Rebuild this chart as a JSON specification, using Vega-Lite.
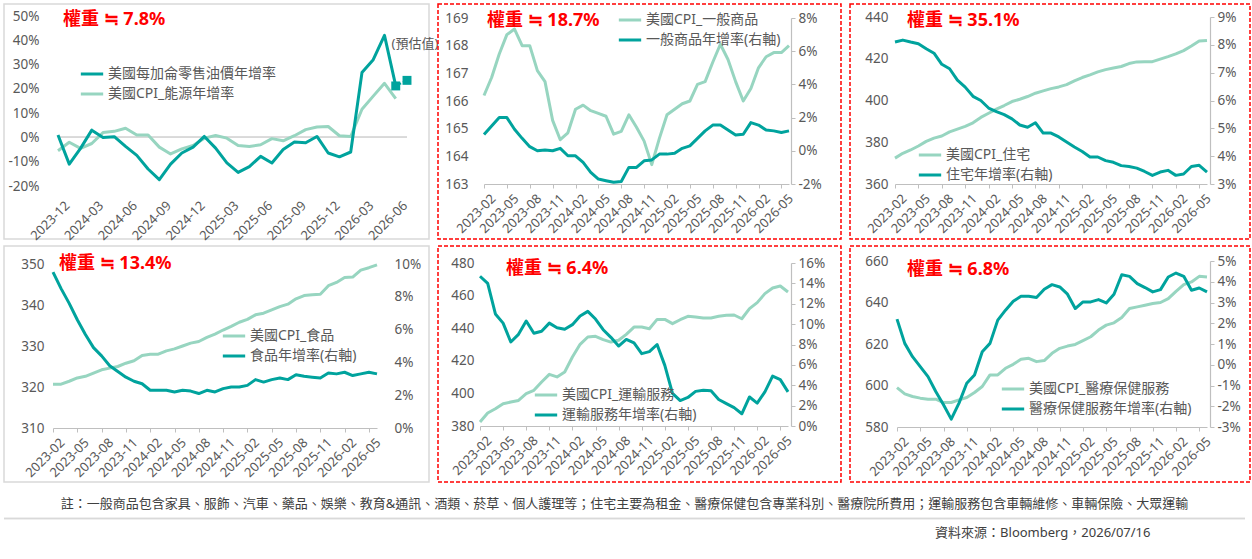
{
  "$schema": "https://vega.github.io/schema/vega-lite/v6.json",
  "background": "white",
  "padding": {"left": 3, "top": 3, "right": 0, "bottom": 0},
  "datasets": {
    "p1": [
      {"m": "2023-12", "oil": 1.0, "energy": -5.5},
      {"m": "2024-01", "oil": -11.0, "energy": -2.0},
      {"m": "2024-02", "oil": -4.5, "energy": -4.5},
      {"m": "2024-03", "oil": 3.0, "energy": -2.5},
      {"m": "2024-04", "oil": 0.0, "energy": 2.0},
      {"m": "2024-05", "oil": 0.3, "energy": 2.5},
      {"m": "2024-06", "oil": -3.7, "energy": 3.8},
      {"m": "2024-07", "oil": -7.4, "energy": 1.0},
      {"m": "2024-08", "oil": -13.0, "energy": 1.0},
      {"m": "2024-09", "oil": -17.4, "energy": -4.0},
      {"m": "2024-10", "oil": -11.0, "energy": -6.8},
      {"m": "2024-11", "oil": -6.4, "energy": -4.7},
      {"m": "2024-12", "oil": -4.0, "energy": -3.3},
      {"m": "2025-01", "oil": 0.4, "energy": -0.3},
      {"m": "2025-02", "oil": -4.4, "energy": 0.8},
      {"m": "2025-03", "oil": -10.5, "energy": -0.3},
      {"m": "2025-04", "oil": -14.4, "energy": -3.3},
      {"m": "2025-05", "oil": -12.0, "energy": -3.7},
      {"m": "2025-06", "oil": -7.8, "energy": -3.0},
      {"m": "2025-07", "oil": -10.5, "energy": -0.5},
      {"m": "2025-08", "oil": -5.0, "energy": -1.4},
      {"m": "2025-09", "oil": -1.9, "energy": 0.7},
      {"m": "2025-10", "oil": -2.2, "energy": 3.2},
      {"m": "2025-11", "oil": 0.4, "energy": 4.3},
      {"m": "2025-12", "oil": -6.4, "energy": 4.5},
      {"m": "2026-01", "oil": -8.0, "energy": 0.7},
      {"m": "2026-02", "oil": -6.0, "energy": 0.4},
      {"m": "2026-03", "oil": 26.7, "energy": 11.6},
      {"m": "2026-04", "oil": 32.0, "energy": 17.0},
      {"m": "2026-05", "oil": 42.0, "energy": 22.3},
      {"m": "2026-06", "oil": 21.2, "energy": 16.0}
    ],
    "p1est": [
      {"m": "2026-06", "est": 21.2},
      {"m": "2026-07", "est": 23.5, "lab": "(預估值)"}
    ],
    "cpi": [
      {"m": "2023-02", "g": 166.2, "gy": 0.98, "s": 372.4, "sy": 8.1, "f": 320.7, "fy": 9.5, "t": 382.5, "ty": 14.7, "h": 599.0, "hy": 2.2},
      {"m": "2023-03", "g": 166.85, "gy": 1.5, "s": 374.7, "sy": 8.17, "f": 320.7, "fy": 8.5, "t": 388.0, "ty": 14.0, "h": 596.0, "hy": 1.03},
      {"m": "2023-04", "g": 167.7, "gy": 2.0, "s": 376.3, "sy": 8.1, "f": 321.4, "fy": 7.6, "t": 390.6, "ty": 11.0, "h": 594.7, "hy": 0.39},
      {"m": "2023-05", "g": 168.4, "gy": 2.0, "s": 378.2, "sy": 8.04, "f": 322.2, "fy": 6.6, "t": 393.7, "ty": 10.1, "h": 593.9, "hy": -0.09},
      {"m": "2023-06", "g": 168.6, "gy": 1.3, "s": 380.4, "sy": 7.86, "f": 322.6, "fy": 5.7, "t": 394.7, "ty": 8.25, "h": 593.4, "hy": -0.57},
      {"m": "2023-07", "g": 168.0, "gy": 0.75, "s": 382.0, "sy": 7.7, "f": 323.4, "fy": 4.9, "t": 395.7, "ty": 9.0, "h": 593.4, "hy": -1.29},
      {"m": "2023-08", "g": 168.0, "gy": 0.25, "s": 383.0, "sy": 7.3, "f": 324.2, "fy": 4.4, "t": 399.8, "ty": 10.3, "h": 591.8, "hy": -1.93},
      {"m": "2023-09", "g": 167.1, "gy": 0.0, "s": 385.0, "sy": 7.14, "f": 324.6, "fy": 3.8, "t": 401.9, "ty": 9.1, "h": 591.8, "hy": -2.62},
      {"m": "2023-10", "g": 166.7, "gy": 0.05, "s": 386.3, "sy": 6.73, "f": 325.0, "fy": 3.45, "t": 407.0, "ty": 9.3, "h": 593.1, "hy": -1.85},
      {"m": "2023-11", "g": 165.3, "gy": 0.0, "s": 387.6, "sy": 6.48, "f": 325.8, "fy": 3.1, "t": 411.7, "ty": 10.1, "h": 594.2, "hy": -0.89},
      {"m": "2023-12", "g": 164.6, "gy": 0.15, "s": 389.3, "sy": 6.15, "f": 326.4, "fy": 2.85, "t": 410.1, "ty": 9.65, "h": 596.6, "hy": -0.49},
      {"m": "2024-01", "g": 164.85, "gy": -0.3, "s": 391.9, "sy": 6.0, "f": 327.7, "fy": 2.7, "t": 413.1, "ty": 9.5, "h": 599.5, "hy": 0.63},
      {"m": "2024-02", "g": 165.7, "gy": -0.3, "s": 393.9, "sy": 5.73, "f": 328.0, "fy": 2.3, "t": 422.3, "ty": 9.95, "h": 605.1, "hy": 1.03},
      {"m": "2024-03", "g": 165.85, "gy": -0.7, "s": 395.9, "sy": 5.6, "f": 328.0, "fy": 2.3, "t": 430.1, "ty": 10.8, "h": 605.1, "hy": 2.15},
      {"m": "2024-04", "g": 165.65, "gy": -1.3, "s": 397.6, "sy": 5.49, "f": 328.8, "fy": 2.3, "t": 434.6, "ty": 11.25, "h": 608.3, "hy": 2.63},
      {"m": "2024-05", "g": 165.55, "gy": -1.7, "s": 399.5, "sy": 5.34, "f": 329.3, "fy": 2.2, "t": 435.0, "ty": 10.5, "h": 610.2, "hy": 3.06},
      {"m": "2024-06", "g": 165.45, "gy": -1.8, "s": 400.6, "sy": 5.12, "f": 330.0, "fy": 2.3, "t": 433.0, "ty": 9.45, "h": 612.6, "hy": 3.3},
      {"m": "2024-07", "g": 164.8, "gy": -1.9, "s": 401.9, "sy": 5.04, "f": 330.7, "fy": 2.25, "t": 431.5, "ty": 8.7, "h": 613.1, "hy": 3.3},
      {"m": "2024-08", "g": 164.9, "gy": -1.85, "s": 403.5, "sy": 5.2, "f": 331.1, "fy": 2.1, "t": 432.6, "ty": 7.85, "h": 611.5, "hy": 3.24},
      {"m": "2024-09", "g": 165.5, "gy": -1.0, "s": 404.6, "sy": 4.83, "f": 332.1, "fy": 2.3, "t": 436.2, "ty": 8.5, "h": 612.0, "hy": 3.64},
      {"m": "2024-10", "g": 165.05, "gy": -1.0, "s": 405.7, "sy": 4.83, "f": 332.9, "fy": 2.2, "t": 440.7, "ty": 8.15, "h": 615.5, "hy": 3.86},
      {"m": "2024-11", "g": 164.55, "gy": -0.6, "s": 406.5, "sy": 4.69, "f": 333.9, "fy": 2.4, "t": 440.7, "ty": 7.1, "h": 617.9, "hy": 3.75},
      {"m": "2024-12", "g": 163.7, "gy": -0.55, "s": 407.6, "sy": 4.51, "f": 334.8, "fy": 2.5, "t": 439.7, "ty": 7.3, "h": 619.0, "hy": 3.4},
      {"m": "2025-01", "g": 164.65, "gy": -0.2, "s": 409.4, "sy": 4.33, "f": 335.8, "fy": 2.5, "t": 445.4, "ty": 8.0, "h": 619.8, "hy": 2.71},
      {"m": "2025-02", "g": 165.5, "gy": -0.2, "s": 411.0, "sy": 4.17, "f": 336.5, "fy": 2.6, "t": 445.4, "ty": 5.95, "h": 621.6, "hy": 3.03},
      {"m": "2025-03", "g": 165.7, "gy": -0.15, "s": 412.3, "sy": 3.97, "f": 337.6, "fy": 2.95, "t": 442.8, "ty": 3.2, "h": 623.5, "hy": 3.03},
      {"m": "2025-04", "g": 165.9, "gy": 0.15, "s": 413.7, "sy": 3.97, "f": 338.0, "fy": 2.8, "t": 445.2, "ty": 2.5, "h": 626.7, "hy": 3.14},
      {"m": "2025-05", "g": 166.0, "gy": 0.3, "s": 414.8, "sy": 3.84, "f": 338.8, "fy": 2.95, "t": 447.3, "ty": 2.8, "h": 629.1, "hy": 2.98},
      {"m": "2025-06", "g": 166.6, "gy": 0.75, "s": 415.6, "sy": 3.78, "f": 339.6, "fy": 3.05, "t": 446.9, "ty": 3.4, "h": 630.2, "hy": 3.4},
      {"m": "2025-07", "g": 166.7, "gy": 1.2, "s": 416.3, "sy": 3.66, "f": 340.2, "fy": 2.95, "t": 446.3, "ty": 3.5, "h": 632.8, "hy": 4.34},
      {"m": "2025-08", "g": 167.4, "gy": 1.55, "s": 417.7, "sy": 3.63, "f": 341.5, "fy": 3.25, "t": 446.3, "ty": 3.45, "h": 637.1, "hy": 4.26},
      {"m": "2025-09", "g": 168.05, "gy": 1.55, "s": 418.5, "sy": 3.57, "f": 342.3, "fy": 3.15, "t": 447.3, "ty": 2.6, "h": 637.9, "hy": 3.91},
      {"m": "2025-10", "g": 167.5, "gy": 1.25, "s": 418.6, "sy": 3.45, "f": 342.5, "fy": 3.1, "t": 447.9, "ty": 2.2, "h": 638.7, "hy": 3.72},
      {"m": "2025-11", "g": 166.7, "gy": 0.95, "s": 418.6, "sy": 3.31, "f": 342.6, "fy": 3.05, "t": 448.1, "ty": 1.8, "h": 639.5, "hy": 3.51},
      {"m": "2025-12", "g": 166.0, "gy": 1.0, "s": 419.8, "sy": 3.43, "f": 344.7, "fy": 3.35, "t": 445.8, "ty": 1.2, "h": 640.0, "hy": 3.62},
      {"m": "2026-01", "g": 166.45, "gy": 1.7, "s": 421.0, "sy": 3.49, "f": 345.5, "fy": 3.3, "t": 452.0, "ty": 2.85, "h": 641.9, "hy": 4.23},
      {"m": "2026-02", "g": 167.2, "gy": 1.55, "s": 422.3, "sy": 3.31, "f": 346.7, "fy": 3.4, "t": 455.7, "ty": 2.25, "h": 645.4, "hy": 4.42},
      {"m": "2026-03", "g": 167.6, "gy": 1.25, "s": 423.9, "sy": 3.36, "f": 346.8, "fy": 3.2, "t": 461.2, "ty": 3.35, "h": 648.6, "hy": 4.26},
      {"m": "2026-04", "g": 167.75, "gy": 1.2, "s": 426.1, "sy": 3.63, "f": 348.5, "fy": 3.3, "t": 464.7, "ty": 4.9, "h": 649.9, "hy": 3.59},
      {"m": "2026-05", "g": 167.75, "gy": 1.1, "s": 428.5, "sy": 3.67, "f": 349.1, "fy": 3.4, "t": 465.9, "ty": 4.55, "h": 652.6, "hy": 3.7},
      {"m": "2026-06", "g": 168.0, "gy": 1.2, "s": 428.8, "sy": 3.43, "f": 349.8, "fy": 3.3, "t": 462.2, "ty": 3.35, "h": 652.3, "hy": 3.51}
    ],
    "foot": [
      {"k": "note", "t": "註：一般商品包含家具、服飾、汽車、藥品、娛樂、教育&通訊、酒類、菸草、個人護理等；住宅主要為租金、醫療保健包含專業科別、醫療院所費用；運輸服務包含車輛維修、車輛保險、大眾運輸"},
      {"k": "src", "t": "資料來源：Bloomberg，2026/07/16"}
    ]
  },
  "resolve": {"scale": {"color": "independent"}, "legend": {"color": "independent"}},
  "spacing": 8,
  "vconcat": [
    {
      "spacing": 1,
      "resolve": {"scale": {"color": "independent"}, "legend": {"color": "independent"}},
      "vconcat": [
        {
          "hconcat": [
            {
              "width": 425, "height": 235,
              "view": {"stroke": "#d9d9d9", "strokeWidth": 1.5},
              "title": {"text": "權重 ≒ 7.8%", "dx": 59, "offset": -25},
              "encoding": {
                "x": {"field": "m", "type": "ordinal",
                  "scale": {"type": "point", "padding": 0, "range": [54, 403]},
                  "axis": {"title": null, "offset": -44, "domain": false, "ticks": false,
                    "values": ["2023-12", "2024-03", "2024-06", "2024-09", "2024-12", "2025-03", "2025-06", "2025-09", "2025-12", "2026-03", "2026-06"]}},
                "y": {"type": "quantitative",
                  "scale": {"domain": [-20, 50], "range": [182, 12], "nice": false, "zero": false},
                  "axis": {"title": null, "orient": "left", "offset": -38, "labelOverlap": false, "values": [-20, -10, 0, 10, 20, 30, 40, 50], "labelExpr": "datum.value + '%'"}}
              },
              "layer": [
                {
                  "data": {"name": "p1"},
                  "mark": {"type": "rule", "color": "#d9d9d9", "strokeWidth": 1.2},
                  "encoding": {"y": {"datum": 0, "type": "quantitative"}, "x": {"datum": "2023-12"}, "x2": {"datum": "2026-07"}}
                },
                {
                  "data": {"name": "p1"},
                  "mark": {"type": "line"},
                  "encoding": {
                    "y": {"field": "energy", "type": "quantitative"},
                    "color": {"datum": "美國CPI_能源年增率",
                      "scale": {"domain": ["美國每加侖零售油價年增率", "美國CPI_能源年增率"], "range": ["#00a39d", "#97d5c0"]},
                      "legend": {"title": null, "legendX": 75, "legendY": 57}}
                  }
                },
                {
                  "data": {"name": "p1"},
                  "mark": {"type": "line"},
                  "encoding": {
                    "y": {"field": "oil", "type": "quantitative"},
                    "color": {"datum": "美國每加侖零售油價年增率"}
                  }
                },
                {
                  "data": {"name": "p1est"},
                  "mark": {"type": "line", "strokeDash": [2, 2], "strokeWidth": 2, "color": "#00a39d"},
                  "encoding": {"y": {"field": "est", "type": "quantitative"}}
                },
                {
                  "data": {"name": "p1est"},
                  "mark": {"type": "square", "size": 80, "color": "#00a39d", "opacity": 1},
                  "encoding": {"y": {"field": "est", "type": "quantitative"}}
                },
                {
                  "data": {"name": "p1est"},
                  "transform": [{"filter": "isValid(datum.lab)"}],
                  "mark": {"type": "text", "dx": 8, "dy": -36, "fontSize": 13, "color": "#595959"},
                  "encoding": {"y": {"field": "est", "type": "quantitative"}, "text": {"field": "lab"}}
                }
              ]
            },
            {
              "width": 403, "height": 235,
              "view": {"stroke": "#ff0000", "strokeDash": [4, 2], "strokeWidth": 1.5},
              "title": {"text": "權重 ≒ 18.7%", "dx": 49, "offset": -26},
              "data": {"name": "cpi"},
              "encoding": {
                "x": {"field": "m", "type": "ordinal",
                  "scale": {"type": "point", "padding": 0, "range": [46, 351]},
                  "axis": {"title": null, "offset": -55,
                    "values": ["2023-02", "2023-05", "2023-08", "2023-11", "2024-02", "2024-05", "2024-08", "2024-11", "2025-02", "2025-05", "2025-08", "2025-11", "2026-02", "2026-05"]}}
              },
              "layer": [
                {
                  "mark": "line",
                  "encoding": {
                    "y": {"field": "g", "type": "quantitative",
                      "scale": {"domain": [163, 169], "range": [180, 14], "nice": false, "zero": false},
                      "axis": {"title": null, "orient": "left", "offset": -33, "values": [163, 164, 165, 166, 167, 168, 169]}},
                    "color": {"datum": "美國CPI_一般商品",
                      "scale": {"domain": ["美國CPI_一般商品", "一般商品年增率(右軸)"], "range": ["#97d5c0", "#00a39d"]},
                      "legend": {"title": null, "legendX": 179, "legendY": 3}}
                  }
                },
                {
                  "mark": "line",
                  "encoding": {
                    "y": {"field": "gy", "type": "quantitative",
                      "scale": {"domain": [-2, 8], "range": [180, 14], "nice": false, "zero": false},
                      "axis": {"title": null, "orient": "right", "offset": -50, "domain": true, "ticks": true, "values": [-2, 0, 2, 4, 6, 8], "labelExpr": "datum.value + '%'"}},
                    "color": {"datum": "一般商品年增率(右軸)"}
                  }
                }
              ],
              "resolve": {"scale": {"y": "independent"}}
            },
            {
              "width": 400, "height": 235,
              "view": {"stroke": "#ff0000", "strokeDash": [4, 2], "strokeWidth": 1.5},
              "title": {"text": "權重 ≒ 35.1%", "dx": 57, "offset": -26},
              "data": {"name": "cpi"},
              "encoding": {
                "x": {"field": "m", "type": "ordinal",
                  "scale": {"type": "point", "padding": 0, "range": [45, 357]},
                  "axis": {"title": null, "offset": -55,
                    "values": ["2023-02", "2023-05", "2023-08", "2023-11", "2024-02", "2024-05", "2024-08", "2024-11", "2025-02", "2025-05", "2025-08", "2025-11", "2026-02", "2026-05"]}}
              },
              "layer": [
                {
                  "mark": "line",
                  "encoding": {
                    "y": {"field": "s", "type": "quantitative",
                      "scale": {"domain": [360, 440], "range": [180, 13], "nice": false, "zero": false},
                      "axis": {"title": null, "orient": "left", "offset": -41, "values": [360, 380, 400, 420, 440]}},
                    "color": {"datum": "美國CPI_住宅",
                      "scale": {"domain": ["美國CPI_住宅", "住宅年增率(右軸)"], "range": ["#97d5c0", "#00a39d"]},
                      "legend": {"title": null, "legendX": 67, "legendY": 138}}
                  }
                },
                {
                  "mark": "line",
                  "encoding": {
                    "y": {"field": "sy", "type": "quantitative",
                      "scale": {"domain": [3, 9], "range": [180, 13], "nice": false, "zero": false},
                      "axis": {"title": null, "orient": "right", "offset": -40, "domain": true, "ticks": true, "values": [3, 4, 5, 6, 7, 8, 9], "labelExpr": "datum.value + '%'"}},
                    "color": {"datum": "住宅年增率(右軸)"}
                  }
                }
              ],
              "resolve": {"scale": {"y": "independent"}}
            }
          ],
          "spacing": 9,
          "bounds": "flush",
          "resolve": {"scale": {"color": "independent"}, "legend": {"color": "independent"}}
        },
        {
          "hconcat": [
            {
              "width": 425, "height": 236,
              "view": {"stroke": "#d9d9d9", "strokeWidth": 1.5},
              "title": {"text": "權重 ≒ 13.4%", "dx": 55, "offset": -27},
              "data": {"name": "cpi"},
              "encoding": {
                "x": {"field": "m", "type": "ordinal",
                  "scale": {"type": "point", "padding": 0, "range": [49, 373]},
                  "axis": {"title": null, "offset": -54,
                    "values": ["2023-02", "2023-05", "2023-08", "2023-11", "2024-02", "2024-05", "2024-08", "2024-11", "2025-02", "2025-05", "2025-08", "2025-11", "2026-02", "2026-05"]}}
              },
              "layer": [
                {
                  "mark": "line",
                  "encoding": {
                    "y": {"field": "f", "type": "quantitative",
                      "scale": {"domain": [310, 350], "range": [182, 18], "nice": false, "zero": false},
                      "axis": {"title": null, "orient": "left", "offset": -43, "values": [310, 320, 330, 340, 350]}},
                    "color": {"datum": "美國CPI_食品",
                      "scale": {"domain": ["美國CPI_食品", "食品年增率(右軸)"], "range": ["#97d5c0", "#00a39d"]},
                      "legend": {"title": null, "legendX": 217, "legendY": 77}}
                  }
                },
                {
                  "mark": "line",
                  "encoding": {
                    "y": {"field": "fy", "type": "quantitative",
                      "scale": {"domain": [0, 10], "range": [182, 18], "nice": false, "zero": false},
                      "axis": {"title": null, "orient": "right", "offset": -38, "values": [0, 2, 4, 6, 8, 10], "labelExpr": "datum.value + '%'"}},
                    "color": {"datum": "食品年增率(右軸)"}
                  }
                }
              ],
              "resolve": {"scale": {"y": "independent"}}
            },
            {
              "width": 403, "height": 236,
              "view": {"stroke": "#ff0000", "strokeDash": [4, 2], "strokeWidth": 1.5},
              "title": {"text": "權重 ≒ 6.4%", "dx": 68, "offset": -32},
              "data": {"name": "cpi"},
              "encoding": {
                "x": {"field": "m", "type": "ordinal",
                  "scale": {"type": "point", "padding": 0, "range": [42, 350]},
                  "axis": {"title": null, "offset": -56,
                    "values": ["2023-02", "2023-05", "2023-08", "2023-11", "2024-02", "2024-05", "2024-08", "2024-11", "2025-02", "2025-05", "2025-08", "2025-11", "2026-02", "2026-05"]}}
              },
              "layer": [
                {
                  "mark": "line",
                  "encoding": {
                    "y": {"field": "t", "type": "quantitative",
                      "scale": {"domain": [380, 480], "range": [180, 17], "nice": false, "zero": false},
                      "axis": {"title": null, "orient": "left", "offset": -39, "values": [380, 400, 420, 440, 460, 480]}},
                    "color": {"datum": "美國CPI_運輸服務",
                      "scale": {"domain": ["美國CPI_運輸服務", "運輸服務年增率(右軸)"], "range": ["#97d5c0", "#00a39d"]},
                      "legend": {"title": null, "legendX": 95, "legendY": 136}}
                  }
                },
                {
                  "mark": "line",
                  "encoding": {
                    "y": {"field": "ty", "type": "quantitative",
                      "scale": {"domain": [0, 16], "range": [180, 17], "nice": false, "zero": false},
                      "axis": {"title": null, "orient": "right", "offset": -50, "domain": true, "ticks": true, "values": [0, 2, 4, 6, 8, 10, 12, 14, 16], "labelExpr": "datum.value + '%'"}},
                    "color": {"datum": "運輸服務年增率(右軸)"}
                  }
                }
              ],
              "resolve": {"scale": {"y": "independent"}}
            },
            {
              "width": 400, "height": 236,
              "view": {"stroke": "#ff0000", "strokeDash": [4, 2], "strokeWidth": 1.5},
              "title": {"text": "權重 ≒ 6.8%", "dx": 57, "offset": -33},
              "data": {"name": "cpi"},
              "encoding": {
                "x": {"field": "m", "type": "ordinal",
                  "scale": {"type": "point", "padding": 0, "range": [47, 357]},
                  "axis": {"title": null, "offset": -55,
                    "values": ["2023-02", "2023-05", "2023-08", "2023-11", "2024-02", "2024-05", "2024-08", "2024-11", "2025-02", "2025-05", "2025-08", "2025-11", "2026-02", "2026-05"]}}
              },
              "layer": [
                {
                  "mark": "line",
                  "encoding": {
                    "y": {"field": "h", "type": "quantitative",
                      "scale": {"domain": [580, 660], "range": [181, 15], "nice": false, "zero": false},
                      "axis": {"title": null, "orient": "left", "offset": -41, "values": [580, 600, 620, 640, 660]}},
                    "color": {"datum": "美國CPI_醫療保健服務",
                      "scale": {"domain": ["美國CPI_醫療保健服務", "醫療保健服務年增率(右軸)"], "range": ["#97d5c0", "#00a39d"]},
                      "legend": {"title": null, "legendX": 150, "legendY": 130}}
                  }
                },
                {
                  "mark": "line",
                  "encoding": {
                    "y": {"field": "hy", "type": "quantitative",
                      "scale": {"domain": [-3, 5], "range": [181, 15], "nice": false, "zero": false},
                      "axis": {"title": null, "orient": "right", "offset": -40, "domain": true, "ticks": true, "values": [-3, -2, -1, 0, 1, 2, 3, 4, 5], "labelExpr": "datum.value + '%'"}},
                    "color": {"datum": "醫療保健服務年增率(右軸)"}
                  }
                }
              ],
              "resolve": {"scale": {"y": "independent"}}
            }
          ],
          "spacing": 9,
          "bounds": "flush",
          "resolve": {"scale": {"color": "independent"}, "legend": {"color": "independent"}}
        }
      ]
    },
    {
      "width": 1241, "height": 50,
      "view": {"stroke": null},
      "data": {"name": "foot"},
      "encoding": {
        "y": {"field": "k", "type": "nominal",
          "scale": {"type": "point", "domain": ["note", "sep", "src"], "range": [13, 42], "padding": 0},
          "axis": null}
      },
      "layer": [
        {
          "mark": {"type": "rule", "color": "#d9d9d9", "strokeWidth": 1.5},
          "encoding": {"y": {"datum": "sep"}}
        },
        {
          "transform": [{"filter": "datum.k == 'note'"}],
          "mark": {"type": "text", "fontSize": 13, "color": "#404040"},
          "encoding": {"text": {"field": "t"}}
        },
        {
          "transform": [{"filter": "datum.k == 'src'"}],
          "mark": {"type": "text", "fontSize": 13, "color": "#404040", "align": "right", "dx": 526},
          "encoding": {"text": {"field": "t"}}
        }
      ]
    }
  ],
  "config": {
    "font": "Noto Sans, Noto Sans CJK TC, sans-serif",
    "axis": {
      "grid": false, "domain": false, "ticks": false, "labelOverlap": false,
      "labelFontSize": 13.5, "labelColor": "#595959", "labelPadding": 3,
      "domainColor": "#bfbfbf", "tickColor": "#bfbfbf", "tickSize": 4, "domainWidth": 1.2
    },
    "axisX": {"labelAngle": -45, "labelFontSize": 13, "domain": true, "ticks": true, "labelOffset": 5, "labelPadding": 4},
    "legend": {
      "orient": "none", "symbolType": "stroke", "symbolStrokeWidth": 3.5, "symbolSize": 500,
      "labelFontSize": 14, "labelColor": "#595959", "rowPadding": 0, "labelOffset": 3, "padding": 0, "labelLimit": 400
    },
    "title": {"anchor": "start", "frame": "group", "fontSize": 18, "fontWeight": "bold", "color": "#ff0000", "baseline": "alphabetic"},
    "line": {"strokeWidth": 3, "strokeJoin": "round"}
  }
}
